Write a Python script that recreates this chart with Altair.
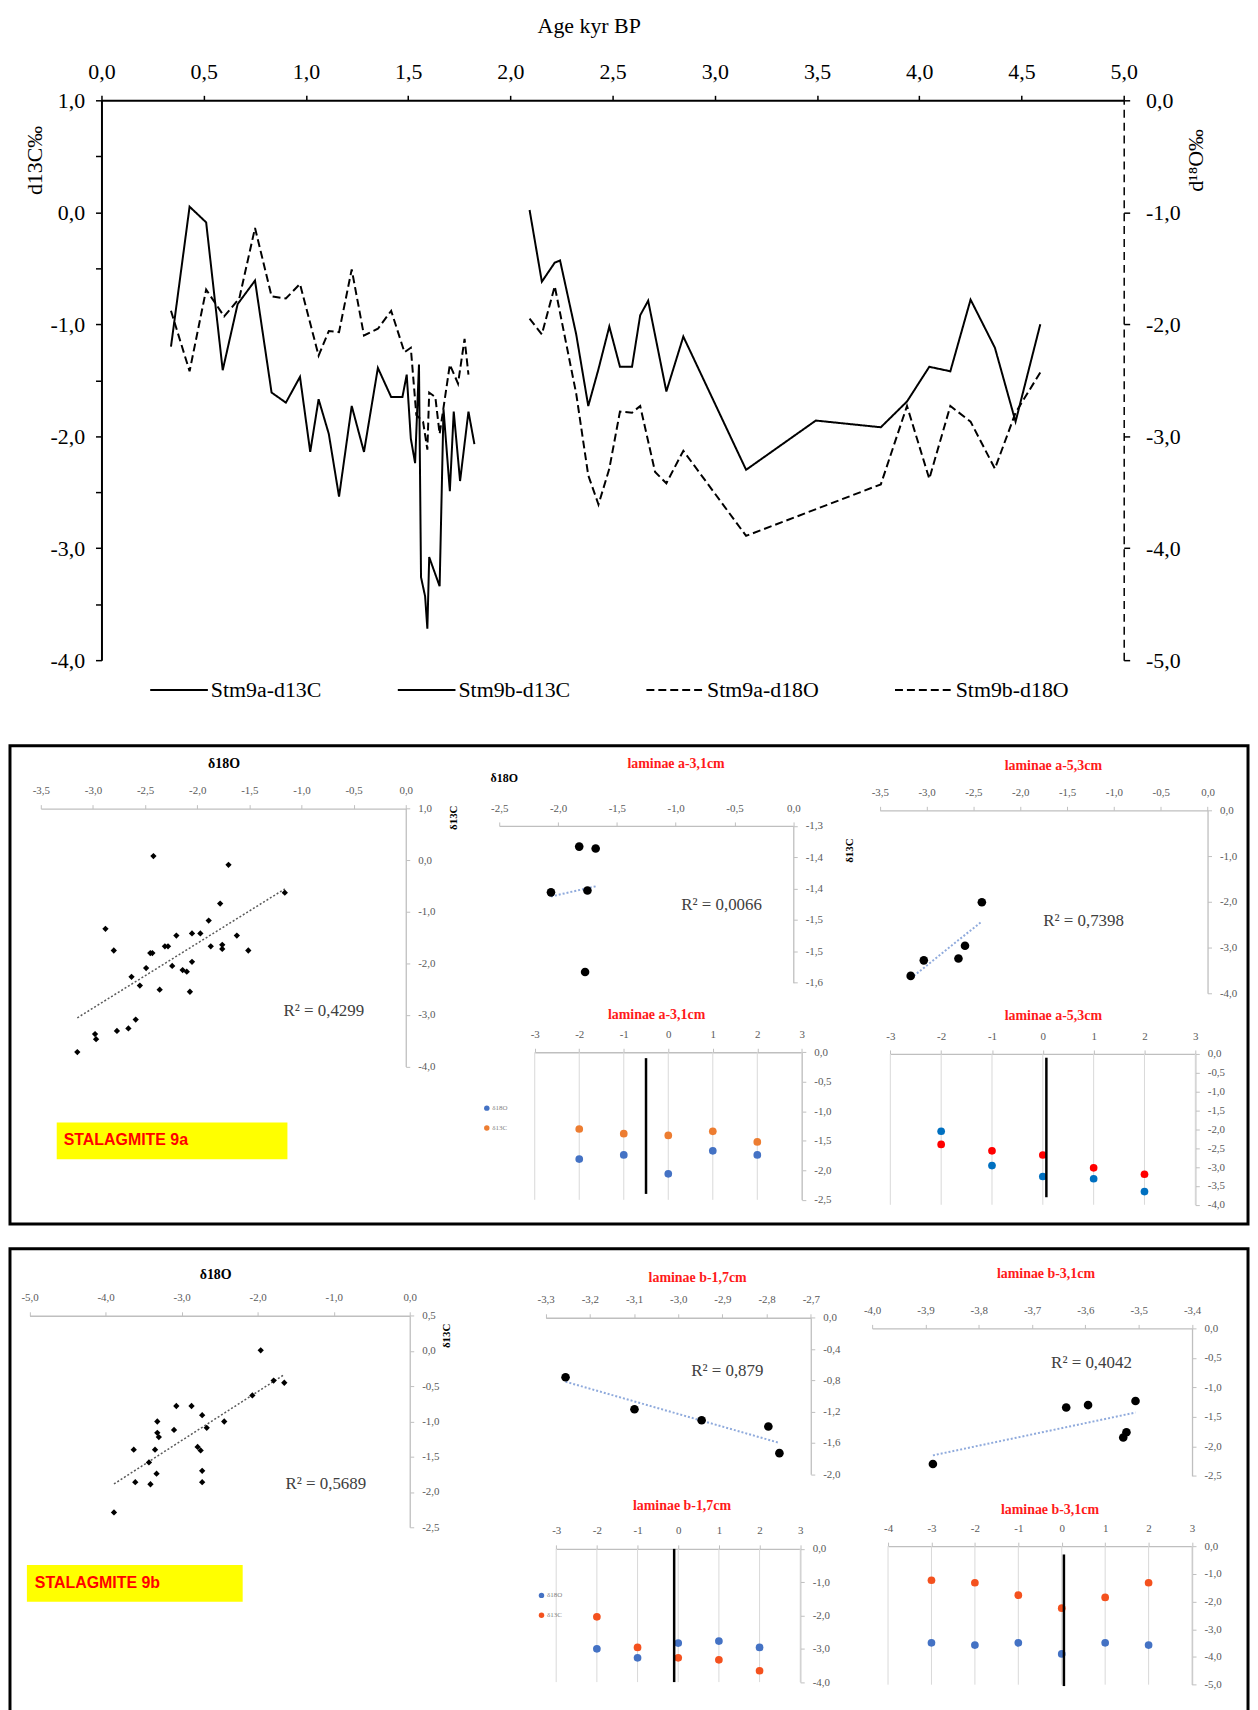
import altair as alt
import pandas as pd

SERIF = "Liberation Serif"
SANS = "Liberation Sans"

# ---------------- top panel : time series ----------------
SERIES = ["Stm9a-d13C", "Stm9b-d13C", "Stm9a-d18O", "Stm9b-d18O"]
A_C13_AGE = [0.34, 0.431, 0.512, 0.593, 0.666, 0.751, 0.832, 0.902, 0.971, 1.021,
             1.062, 1.112, 1.162, 1.224, 1.284, 1.352, 1.417, 1.472, 1.493, 1.513,
             1.534, 1.553, 1.563, 1.583, 1.594, 1.603, 1.654, 1.673, 1.704, 1.723,
             1.754, 1.795, 1.824]
A_C13 = [-1.20, 0.05, -0.09, -1.41, -0.82, -0.61, -1.61, -1.70, -1.47, -2.14,
         -1.67, -1.98, -2.54, -1.73, -2.14, -1.39, -1.65, -1.65, -1.45, -2.02,
         -2.24, -1.36, -3.26, -3.43, -3.72, -3.08, -3.34, -1.76, -2.49, -1.78,
         -2.40, -1.78, -2.07]
B_C13_AGE = [2.094, 2.154, 2.217, 2.243, 2.322, 2.381, 2.431, 2.484, 2.536, 2.595,
             2.635, 2.674, 2.763, 2.846, 3.153, 3.494, 3.812, 3.940, 4.049, 4.152,
             4.251, 4.370, 4.471, 4.592]
B_C13 = [0.02, -0.62, -0.45, -0.43, -1.09, -1.73, -1.40, -1.02, -1.38, -1.38,
         -0.92, -0.79, -1.60, -1.11, -2.30, -1.86, -1.92, -1.69, -1.38, -1.42,
         -0.78, -1.21, -1.87, -1.00]
A_O18_AGE = [0.34, 0.431, 0.512, 0.600, 0.674, 0.751, 0.832, 0.902, 0.971, 1.062,
             1.112, 1.162, 1.224, 1.284, 1.352, 1.417, 1.482, 1.513, 1.540, 1.573,
             1.594, 1.603, 1.633, 1.654, 1.704, 1.744, 1.776, 1.795]
A_O18 = [-1.88, -2.42, -1.69, -1.93, -1.77, -1.14, -1.75, -1.77, -1.64, -2.28,
         -2.06, -2.07, -1.51, -2.10, -2.04, -1.88, -2.25, -2.21, -2.81, -2.87,
         -3.12, -2.61, -2.65, -2.98, -2.36, -2.53, -2.13, -2.45]
B_O18_AGE = [2.094, 2.154, 2.217, 2.322, 2.381, 2.431, 2.484, 2.536, 2.595, 2.635,
             2.708, 2.763, 2.846, 3.153, 3.812, 3.940, 4.049, 4.152, 4.251, 4.370,
             4.471, 4.592]
B_O18 = [-1.95, -2.09, -1.66, -2.62, -3.35, -3.61, -3.29, -2.78, -2.79, -2.73,
         -3.32, -3.42, -3.13, -3.89, -3.43, -2.73, -3.38, -2.73, -2.87, -3.29,
         -2.79, -2.43]
AGE_TICKS = [0.0, 0.5, 1.0, 1.5, 2.0, 2.5, 3.0, 3.5, 4.0, 4.5, 5.0]
C13_TICKS = [1.0, 0.5, 0.0, -0.5, -1.0, -1.5, -2.0, -2.5, -3.0, -3.5, -4.0]
O18_TICKS = [0.0, -1.0, -2.0, -3.0, -4.0, -5.0]

# ---------------- stalagmite 9a ----------------
A_X = [-2.42, -1.70, -1.16, -1.78, -2.88, -1.89, -2.20, -2.05, -1.97, -1.62,
       -2.80, -2.31, -2.28, -2.45, -2.43, -1.87, -1.76, -1.76, -1.51, -2.05,
       -2.49, -2.24, -2.14, -2.10, -2.63, -2.55, -2.36, -2.07, -2.59, -2.66,
       -2.77, -2.98, -2.97, -3.15]
A_Y = [0.08, -0.09, -0.63, -0.84, -1.33, -1.17, -1.46, -1.42, -1.42, -1.46,
       -1.75, -1.67, -1.67, -1.80, -1.80, -1.67, -1.64, -1.72, -1.75, -1.97,
       -2.09, -2.05, -2.13, -2.16, -2.26, -2.43, -2.51, -2.55, -3.09, -3.26,
       -3.31, -3.37, -3.47, -3.72]
B_X = [-1.82, -1.68, -2.06, -1.75, -1.77]
B_Y = [-1.333, -1.336, -1.406, -1.403, -1.533]
C_POS = [-2, -1, 0, 1, 2]
C_D13 = [-1.30, -1.38, -1.41, -1.34, -1.52]
C_D18 = [-1.81, -1.74, -2.06, -1.67, -1.74]
C_BAR = [-0.5, -0.1, -2.4]
D_X = [-2.41, -2.59, -2.66, -3.03, -3.17]
D_Y = [-2.01, -2.96, -3.24, -3.28, -3.62]
E_POS = [-2, -1, 0, 1, 2]
E_D13 = [-2.40, -2.57, -2.68, -3.02, -3.19]
E_D18 = [-2.05, -2.96, -3.25, -3.31, -3.65]
E_BAR = [0.07, -0.1, -3.8]

# ---------------- stalagmite 9b ----------------
F_X = [-1.96, -1.79, -1.65, -2.07, -3.07, -2.87, -2.73, -2.44, -3.32, -2.67,
       -3.10, -3.32, -3.30, -3.63, -3.35, -2.79, -2.75, -3.43, -3.33, -2.73,
       -3.61, -3.41, -2.73, -3.89]
F_Y = [0.01, -0.42, -0.45, -0.63, -0.78, -0.78, -0.91, -1.00, -1.00, -1.09,
       -1.12, -1.16, -1.22, -1.40, -1.40, -1.36, -1.41, -1.58, -1.74, -1.70,
       -1.86, -1.89, -1.86, -2.29]
G_X = [-3.255, -3.099, -2.947, -2.796, -2.771]
G_Y = [-0.76, -1.17, -1.31, -1.39, -1.73]
H_POS = [-2, -1, 0, 1, 2]
H_D13 = [-2.04, -2.96, -3.27, -3.33, -3.66]
H_D18 = [-3.00, -3.27, -2.83, -2.77, -2.96]
H_BAR = [-0.1, 0.0, -4.0]
I_X = [-3.886, -3.636, -3.595, -3.506, -3.529, -3.523]
I_Y = [-2.30, -1.34, -1.30, -1.23, -1.85, -1.76]
J_POS = [-3, -2, -1, 0, 1, 2]
J_D13 = [-1.23, -1.32, -1.77, -2.24, -1.85, -1.32]
J_D18 = [-3.49, -3.57, -3.49, -3.89, -3.49, -3.57]
J_BAR = [0.05, -0.3, -5.05]

# tick label arrays
T_35 = [-3.5, -3.0, -2.5, -2.0, -1.5, -1.0, -0.5, 0.0]
T_25 = [-2.5, -2.0, -1.5, -1.0, -0.5, 0.0]
T_B_Y = [-1.30, -1.35, -1.40, -1.45, -1.50, -1.55]
T_DOT = [-3, -2, -1, 0, 1, 2, 3]
T_DOT_J = [-4, -3, -2, -1, 0, 1, 2, 3]
T_A_Y = [1.0, 0.0, -1.0, -2.0, -3.0, -4.0]
T_C_Y = [0.0, -0.5, -1.0, -1.5, -2.0, -2.5]
T_D_Y = [0.0, -1.0, -2.0, -3.0, -4.0]
T_E_Y = [0.0, -0.5, -1.0, -1.5, -2.0, -2.5, -3.0, -3.5, -4.0]
T_F_X = [-5.0, -4.0, -3.0, -2.0, -1.0, 0.0]
T_F_Y = [0.5, 0.0, -0.5, -1.0, -1.5, -2.0, -2.5]
T_G_X = [-3.3, -3.2, -3.1, -3.0, -2.9, -2.8, -2.7]
T_G_Y = [0.0, -0.4, -0.8, -1.2, -1.6, -2.0]
T_I_X = [-4.0, -3.9, -3.8, -3.7, -3.6, -3.5, -3.4]
T_J_Y = [0.0, -1.0, -2.0, -3.0, -4.0, -5.0]
ISO = ["δ18O", "δ13C"]

R2_A, R2_B, R2_D = "R² = 0,4299", "R² = 0,0066", "R² = 0,7398"
R2_F, R2_G, R2_I = "R² = 0,5689", "R² = 0,879", "R² = 0,4042"

MINUS = "\u2212"
NUM1 = "replace(replace(format(datum.value, '.1f'), '.', ','), '" + MINUS + "', '-')"
NUM1R = "replace(replace(format(datum.value - 1e-9, '.1f'), '.', ','), '" + MINUS + "', '-')"
INT = "replace(format(datum.value, 'd'), '" + MINUS + "', '-')"
LEFT_EXPR = "abs(datum.value % 1) < 1e-9 ? " + NUM1 + " : ''"

BOX_W = 1245
AXC = "#bfbfbf"
LBLC = "#595959"
RED = "#ff1a1a"
TOPF = 22


def sc(domain, rng):
    return alt.Scale(domain=domain, range=rng, nice=False, zero=False)


# ================= top chart =================
top_c = pd.concat([
    pd.DataFrame({"series": SERIES[0], "age": A_C13_AGE, "val": A_C13}),
    pd.DataFrame({"series": SERIES[1], "age": B_C13_AGE, "val": B_C13}),
])
top_o = pd.concat([
    pd.DataFrame({"series": SERIES[2], "age": A_O18_AGE, "val": A_O18}),
    pd.DataFrame({"series": SERIES[3], "age": B_O18_AGE, "val": B_O18}),
])
x_top = sc([0, 5], [92, 1120])
y_c = sc([-4, 1], [651, 88])
y_o = sc([-5, 0], [651, 88])
dash = alt.Scale(domain=SERIES, range=[[1, 0], [1, 0], [8, 4], [8, 4]])
leg = alt.Legend(orient="none", legendX=140, legendY=651, direction="horizontal", title=None,
                 symbolType="stroke", symbolSize=3364, symbolStrokeWidth=2, symbolStrokeColor="black",
                 labelFont=SERIF, labelFontSize=TOPF, labelColor="black", labelOffset=2,
                 columnPadding=72, padding=0)
common_top = dict(domainColor="black", tickColor="black", tickWidth=1.5, labelFont=SERIF,
                  labelFontSize=TOPF, labelColor="black", labelFlush=False, labelOverlap=False,
                  grid=False, titleFont=SERIF, titleFontSize=TOPF, titleFontWeight="normal",
                  titleColor="black", titleAlign="center", titleBaseline="middle")
ax_age = alt.Axis(orient="top", offset=-88, values=AGE_TICKS, labelExpr=NUM1, title="Age kyr BP",
                  titleX=582, titleY=-75, titleAngle=0, domainWidth=2, tickSize=5, labelPadding=12,
                  **common_top)
ax_c = alt.Axis(orient="left", offset=-92, values=C13_TICKS, labelExpr=LEFT_EXPR, title="d13C‰",
                titleX=-67, titleY=148, titleAngle=-90, domainWidth=2, tickSize=6, labelPadding=11,
                **common_top)
ax_o = alt.Axis(orient="right", offset=-125, values=O18_TICKS, labelExpr=NUM1, title="d¹⁸O‰",
                titleX=72, titleY=148, titleAngle=-90, domainWidth=1.5, domainDash=[8, 5],
                tickSize=6, labelPadding=16, **common_top)

top_lc = alt.Chart(top_c).mark_line(color="black", strokeWidth=2).encode(
    x=alt.X("age:Q", scale=x_top, axis=ax_age),
    y=alt.Y("val:Q", scale=y_c, axis=ax_c),
    strokeDash=alt.StrokeDash("series:N", scale=dash, legend=leg),
)
top_lo = alt.Chart(top_o).mark_line(color="black", strokeWidth=2).encode(
    x=alt.X("age:Q", scale=x_top, axis=None),
    y=alt.Y("val:Q", scale=y_o, axis=ax_o),
    strokeDash=alt.StrokeDash("series:N", scale=dash, legend=leg),
)
top = alt.layer(top_lc, top_lo).resolve_scale(x="independent", y="independent").properties(
    width=BOX_W, height=712)


# ================= helpers for boxed panels =================
def top_axis(values, y_pos, title, tx, ty, expr=NUM1, tcolor=RED, tsize=14):
    return alt.Axis(orient="top", offset=-y_pos, values=values, labelExpr=expr, title=title,
                    titleX=tx, titleY=ty - y_pos, titleAlign="center", titleBaseline="middle",
                    titleAngle=0, titleColor=tcolor, titleFont=SERIF, titleFontSize=tsize,
                    titleFontWeight="bold", domainColor=AXC, domainWidth=1.3, tickColor=AXC,
                    tickSize=4, labelFont=SERIF, labelFontSize=11, labelColor=LBLC,
                    labelPadding=9, labelFlush=False, labelOverlap=False, grid=False)


def right_axis(values, x_pos, expr=NUM1, title=None, tx=0, ty=0):
    kw = dict(orient="right", offset=x_pos - BOX_W, values=values, labelExpr=expr,
              domainColor=AXC, domainWidth=1.3, tickColor=AXC, tickSize=4, labelFont=SERIF,
              labelFontSize=11, labelColor=LBLC, labelPadding=8, labelFlush=False,
              labelOverlap=False, grid=False)
    if title:
        kw.update(title=title, titleX=tx - x_pos, titleY=ty, titleAngle=-90, titleAlign="center",
                  titleBaseline="middle", titleFont=SERIF, titleFontSize=11,
                  titleFontWeight="bold", titleColor="black")
    else:
        kw["title"] = None
    return alt.Axis(**kw)


def scatter_panel(xs, ys, sx, sy, xaxis, yaxis, shape, size, reg_color, reg_width):
    df = pd.DataFrame({"x": xs, "y": ys})
    reg = alt.Chart(df).transform_regression("x", "y").mark_line(
        color=reg_color, strokeDash=[2, 2], strokeWidth=reg_width).encode(
        x=alt.X("x:Q", scale=sx, axis=None), y=alt.Y("y:Q", scale=sy, axis=None))
    pts = alt.Chart(df).mark_point(shape=shape, filled=True, size=size, color="black",
                                   opacity=1).encode(
        x=alt.X("x:Q", scale=sx, axis=xaxis), y=alt.Y("y:Q", scale=sy, axis=yaxis))
    return [reg, pts]


def dot_legend(lx, ly):
    return alt.Legend(orient="none", legendX=lx, legendY=ly, direction="vertical", title=None,
                      symbolType="circle", symbolSize=30, labelFont=SERIF, labelFontSize=7,
                      labelColor="#7f7f7f", labelOffset=2, rowPadding=12, padding=0)


def dot_panel(ticks, pos, d13, d18, bar, sx, sy, ydom, xaxis, yaxis, colors, legend):
    grid = alt.Chart(pd.DataFrame({"x": ticks})).mark_rule(color="#d9d9d9", strokeWidth=1).encode(
        x=alt.X("x:Q", scale=sx, axis=None),
        y=alt.Y(datum=ydom[1], type="quantitative", scale=sy, axis=None),
        y2=alt.Y2(datum=ydom[0]),
    )
    n = len(pos)
    long = pd.DataFrame({"pos": list(pos) * 2, "val": list(d18) + list(d13),
                         "iso": [ISO[0]] * n + [ISO[1]] * n})
    pts = alt.Chart(long).mark_circle(size=60, opacity=1).encode(
        x=alt.X("pos:Q", scale=sx, axis=xaxis),
        y=alt.Y("val:Q", scale=sy, axis=yaxis),
        color=alt.Color("iso:N", scale=alt.Scale(domain=ISO, range=colors), legend=legend),
    )
    rule = alt.Chart(pd.DataFrame({"x": [bar[0]], "y": [bar[1]], "y2": [bar[2]]})).mark_rule(
        color="black", strokeWidth=2.5).encode(
        x=alt.X("x:Q", scale=sx, axis=None), y=alt.Y("y:Q", scale=sy, axis=None), y2="y2:Q")
    return [grid, pts, rule]


def note(txt, x, y, size=17, color="#404040", weight="normal", font=SERIF, align="left"):
    return alt.Chart(pd.DataFrame({"t": [txt]})).mark_text(
        align=align, baseline="middle", font=font, fontSize=size, color=color,
        fontWeight=weight).encode(x=alt.value(x), y=alt.value(y), text="t:N")


def label_box(txt, x0, x1, y0, y1, tx, ty):
    rect = alt.Chart(pd.DataFrame({"t": [txt]})).mark_rect(color="#ffff00").encode(
        x=alt.value(x0), x2=alt.value(x1), y=alt.value(y0), y2=alt.value(y1))
    return [rect, note(txt, tx, ty, size=16, color="#ff0000", weight="bold", font=SANS)]


BLUE_DOT = ["#4472c4", "#ed7d31"]
REG_BLUE = "#8faadc"

# ================= box 1 : stalagmite 9a =================
layers1 = []
sxA, syA = sc([-3.5, 0], [31, 398]), sc([-4, 1], [322.7, 63.3])
layers1 += scatter_panel(A_X, A_Y, sxA, syA,
                         top_axis(T_35, 63.3, "δ18O", 214.7, 17.7, tcolor="black"),
                         right_axis(T_A_Y, 398, title="δ13C", tx=446, ty=72),
                         "diamond", 40, "#595959", 1.5)
layers1.append(note(R2_A, 275, 267))
layers1 += label_box("STALAGMITE 9a", 47, 279, 379, 416, 54, 397)

sxB, syB = sc([-2.5, 0], [492, 787.7]), sc([-1.55, -1.30], [238.3, 80.7])
layers1 += scatter_panel(B_X, B_Y, sxB, syB,
                         top_axis(T_25, 80.7, "laminae a-3,1cm", 669.3, 18.3),
                         right_axis(T_B_Y, 787.7, expr=NUM1R, title="δ13C", tx=844, ty=105),
                         "circle", 75, REG_BLUE, 2)
layers1.append(note("δ18O", 497, 33, size=12, color="black", weight="bold", align="center"))
layers1.append(note(R2_B, 675, 160))

sxC, syC = sc([-3, 3], [527.7, 796.3]), sc([-2.5, 0], [456.7, 308.3])
layers1 += dot_panel(T_DOT, C_POS, C_D13, C_D18, C_BAR, sxC, syC, [-2.5, 0],
                     top_axis(T_DOT, 308.3, "laminae a-3,1cm", 649.7, 270, expr=INT),
                     right_axis(T_C_Y, 796.3), BLUE_DOT, dot_legend(476, 361))

sxD, syD = sc([-3.5, 0], [874.7, 1204.3]), sc([-4, 0], [249, 65])
layers1 += scatter_panel(D_X, D_Y, sxD, syD,
                         top_axis(T_35, 65, "laminae a-5,3cm", 1048.7, 20),
                         right_axis(T_D_Y, 1204.3), "circle", 75, REG_BLUE, 2)
layers1.append(note(R2_D, 1039, 176))

sxE, syE = sc([-3, 3], [885.3, 1192]), sc([-4, 0], [461.7, 310])
layers1 += dot_panel(T_DOT, E_POS, E_D13, E_D18, E_BAR, sxE, syE, [-4, 0],
                     top_axis(T_DOT, 310, "laminae a-5,3cm", 1048.7, 271.7, expr=INT),
                     right_axis(T_E_Y, 1192), ["#0070c0", "#ff0000"], None)

box1 = alt.layer(*layers1).resolve_scale(
    x="independent", y="independent", color="independent").properties(
    width=BOX_W, height=481, view=alt.ViewBackground(stroke="black", strokeWidth=3, fill="white"))

# ================= box 2 : stalagmite 9b =================
layers2 = []
sxF, syF = sc([-5, 0], [19.7, 402]), sc([-2.5, 0.5], [280, 67.3])
layers2 += scatter_panel(F_X, F_Y, sxF, syF,
                         top_axis(T_F_X, 67.3, "δ18O", 206.3, 26.3, tcolor="black"),
                         right_axis(T_F_Y, 402, title="δ13C", tx=439, ty=87),
                         "diamond", 40, "#595959", 1.5)
layers2.append(note(R2_F, 277, 236.3))
layers2 += label_box("STALAGMITE 9b", 17, 234, 318, 355, 25, 336)

sxG, syG = sc([-3.3, -2.7], [538.7, 805.3]), sc([-2, 0], [226.7, 69.3])
layers2 += scatter_panel(G_X, G_Y, sxG, syG,
                         top_axis(T_G_X, 69.3, "laminae b-1,7cm", 691, 29),
                         right_axis(T_G_Y, 805.3), "circle", 75, REG_BLUE, 2)
layers2.append(note(R2_G, 685, 123.3))

sxH, syH = sc([-3, 3], [549.3, 794.7]), sc([-4, 0], [435.7, 301.7])
layers2 += dot_panel(T_DOT, H_POS, H_D13, H_D18, H_BAR, sxH, syH, [-4, 0],
                     top_axis(T_DOT, 301.7, "laminae b-1,7cm", 675.3, 258.3, expr=INT),
                     right_axis(T_D_Y, 794.7), ["#4472c4", "#f4511e"], dot_legend(531, 345))

sxI, syI = sc([-4.0, -3.4], [867, 1188.7]), sc([-2.5, 0], [228.3, 80])
layers2 += scatter_panel(I_X, I_Y, sxI, syI,
                         top_axis(T_I_X, 80, "laminae b-3,1cm", 1041.3, 25),
                         right_axis(T_C_Y, 1188.7), "circle", 75, REG_BLUE, 2)
layers2.append(note(R2_I, 1047, 115))

sxJ, syJ = sc([-4, 3], [883, 1188.7]), sc([-5, 0], [438.3, 299])
layers2 += dot_panel(T_DOT_J, J_POS, J_D13, J_D18, J_BAR, sxJ, syJ, [-5, 0],
                     top_axis(T_DOT_J, 299, "laminae b-3,1cm", 1045.3, 261.7, expr=INT),
                     right_axis(T_J_Y, 1188.7), ["#4472c4", "#f4511e"], None)

box2 = alt.layer(*layers2).resolve_scale(
    x="independent", y="independent", color="independent").properties(
    width=BOX_W, height=470, view=alt.ViewBackground(stroke="black", strokeWidth=3, fill="white"))

chart = alt.vconcat(top, box1, box2, spacing=25, bounds="flush").properties(
    padding=0).configure_view(strokeWidth=0)

chart.save("out.html", embed_options={"renderer": "svg", "actions": False})
